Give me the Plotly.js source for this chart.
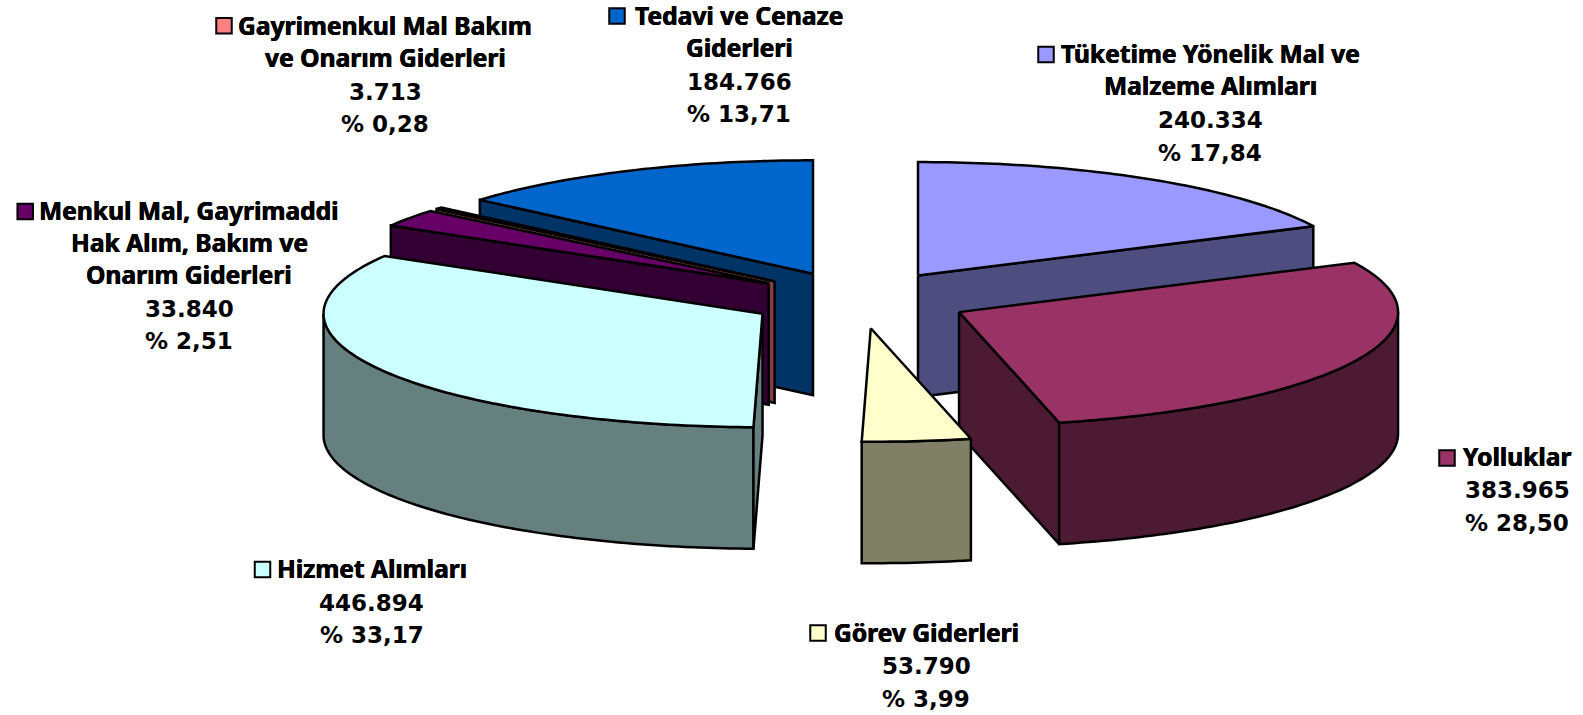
<!DOCTYPE html>
<html>
<head>
<meta charset="utf-8">
<script src="https://cdn.plot.ly/plotly-3.0.1.min.js"></script>
<style>html,body{margin:0;padding:0;background:#fff}#chart{width:1583px;height:715px}</style>
</head>
<body>
<div id="chart"></div>
<script>
// --- data, in pie order (clockwise from 12 o'clock) ---
const categories = [
  ["Tüketime Yönelik Mal ve", "Malzeme Alımları"],
  ["Yolluklar"],
  ["Görev Giderleri"],
  ["Hizmet Alımları"],
  ["Menkul Mal, Gayrimaddi", "Hak Alım, Bakım ve", "Onarım Giderleri"],
  ["Gayrimenkul Mal Bakım", "ve Onarım Giderleri"],
  ["Tedavi ve Cenaze", "Giderleri"]
];
const values = [240334, 383965, 53790, 446894, 33840, 3713, 184766];
const topColors  = ["#9999FF", "#993366", "#FFFFCC", "#CCFFFF", "#660066", "#FF8080", "#0066CC"];
const wallColors = ["#4D4D80", "#4D1A33", "#808066", "#668080", "#330033", "#804040", "#003366"];

// --- pie geometry (page pixels) ---
const CX = 859.2, CY = 299.8, RX = 439, RY = 113.5, DEPTH = 121.5, EXPLODE = 0.252;
const paintOrder = [0, 6, 5, 4, 3, 1, 2];

// --- label placement (page pixels) ---
const labelX = [1210, 1517, 926, 371.5, 189, 385, 739];
const labelY = [53.5, 456, 632, 568.5, 210, 25, 15];
const LINE_GAP = 32.4;
const NUM_SHIFT = 1.8;
const keyX   = [1046, 1447, 818, 262.5, 25.2, 224, 617];
const keyY   = [54.5, 458, 633, 569.5, 211.5, 25.8, 16];

const total = values.reduce((a, b) => a + b, 0);
const rad = d => d * Math.PI / 180;
const fmtValue = v => String(v).replace(/\B(?=(\d{3})+$)/g, ".");
const fmtPct = v => "% " + (100 * v / total).toFixed(2).replace(".", ",");

let acc = 0;
const slices = values.map(v => {
  const s = acc / total * 360;
  acc += v;
  const e = acc / total * 360, m = (s + e) / 2;
  return {
    s, e,
    ax: CX + EXPLODE * RX * Math.sin(rad(m)),
    ay: CY - EXPLODE * RY * Math.cos(rad(m))
  };
});
const pt = (sl, a, dz) => [sl.ax + RX * Math.sin(rad(a)), sl.ay - RY * Math.cos(rad(a)) + (dz || 0)];
const arc = (sl, a0, a1, dz) => {
  const out = [], n = Math.max(2, Math.ceil(Math.abs(a1 - a0)));
  for (let i = 0; i <= n; i++) out.push(pt(sl, a0 + (a1 - a0) * i / n, dz));
  return out;
};
const poly = (pts, fill) => ({
  type: "scatter", mode: "lines", x: pts.map(p => p[0]), y: pts.map(p => p[1]),
  fill: "toself", fillcolor: fill, line: {color: "#000", width: 2.5, simplify: false},
  hoverinfo: "skip", showlegend: false
});
const radial = (sl, a) => {
  const o = pt(sl, a);
  return [[sl.ax, sl.ay], o, [o[0], o[1] + DEPTH], [sl.ax, sl.ay + DEPTH], [sl.ax, sl.ay]];
};

const traces = [];
paintOrder.forEach(i => {
  const sl = slices[i];
  if (Math.sin(rad(sl.e)) > 0.001) traces.push(poly(radial(sl, sl.e), wallColors[i]));
  const w0 = Math.max(sl.s, 90), w1 = Math.min(sl.e, 270);
  if (w1 > w0) {
    const a = arc(sl, w0, w1, 0), b = arc(sl, w1, w0, DEPTH);
    traces.push(poly(a.concat(b, [a[0]]), wallColors[i]));
  }
  if (Math.sin(rad(sl.s)) < -0.001) traces.push(poly(radial(sl, sl.s), wallColors[i]));
  const top = [[sl.ax, sl.ay]].concat(arc(sl, sl.s, sl.e, 0), [[sl.ax, sl.ay]]);
  traces.push(poly(top, topColors[i]));
});

traces.push({
  type: "scatter", mode: "markers", x: keyX, y: keyY,
  marker: {symbol: "square", size: 15.5, color: topColors, line: {color: "#000", width: 2}},
  hoverinfo: "skip", showlegend: false
});

const nameFont = {family: "'Noto Sans', sans-serif", size: 24.6, color: "#000", weight: 700, shadow: "0.35px 0 0 #000, -0.35px 0 0 #000"};
const numFont = {family: "'DejaVu Sans', sans-serif", size: 23, color: "#000", weight: 700};
const annotations = [];
categories.forEach((lines, i) => {
  const rows = lines.map(t => [t, nameFont, 0]).concat([[fmtValue(values[i]), numFont, NUM_SHIFT], [fmtPct(values[i]), numFont, NUM_SHIFT]]);
  rows.forEach((r, k) => annotations.push({
    x: labelX[i], y: labelY[i] + k * LINE_GAP + r[2], xref: "x", yref: "y",
    xanchor: "center", yanchor: "middle", align: "center", showarrow: false,
    text: r[0], font: r[1]
  }));
});

Plotly.newPlot("chart", traces, {
  width: 1583, height: 715,
  margin: {l: 0, r: 0, t: 0, b: 0},
  paper_bgcolor: "#fff", plot_bgcolor: "#fff",
  showlegend: false,
  xaxis: {range: [0, 1583], visible: false, fixedrange: true},
  yaxis: {range: [715, 0], visible: false, fixedrange: true},
  annotations
}, {displayModeBar: false, staticPlot: true});
</script>
</body>
</html>
